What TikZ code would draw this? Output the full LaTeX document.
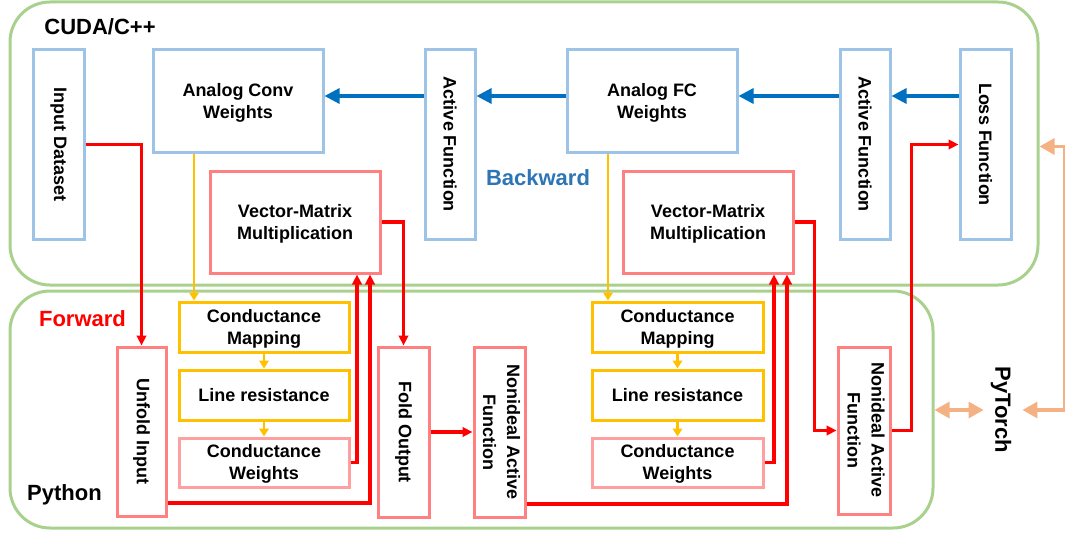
\documentclass[tikz,border=0pt]{standalone}
\usepackage{fontspec}
\setmainfont{Liberation Sans}
\usepackage{graphicx}
\usetikzlibrary{arrows.meta,calc}

\definecolor{cgreen}{HTML}{A9D18E}
\definecolor{cblue}{HTML}{9DC3E6}
\definecolor{cbluearr}{HTML}{0070C0}
\definecolor{cbwtext}{HTML}{2E75B6}
\definecolor{cyellow}{HTML}{FFC000}
\definecolor{cpink}{HTML}{FF8080}
\definecolor{clpink}{HTML}{FFA0A0}
\definecolor{cred}{HTML}{FF0000}
\definecolor{corange}{HTML}{F4B183}

% two-line caption, nudged slightly down inside its box
\newcommand{\twoline}[2]{\raisebox{-2pt}[\height][\depth]{\begin{tabular}{@{}c@{}}#1\\#2\end{tabular}}}

\tikzset{
  box/.style={draw, line width=3pt, fill=white, inner sep=0pt,
    font=\fontsize{18}{22}\selectfont\bfseries, align=center},
  bbox/.style={box, draw=cblue},
  ybox/.style={box, draw=cyellow},
  pbox/.style={box, draw=cpink},
  lpbox/.style={box, draw=clpink},
  cont/.style={draw=cgreen, line width=3pt, rounded corners=40pt, inner sep=0pt},
  lbl/.style={font=\fontsize{22}{26}\selectfont\bfseries, inner sep=0pt},
  redarr/.style={draw=cred, line width=3.2pt, -{Triangle[length=10pt,width=9.5pt]}},
  bluearr/.style={draw=cbluearr, line width=3.2pt, -{Triangle[length=15pt,width=15pt]}},
  yelarr/.style={draw=cyellow, line width=2.8pt, -{Triangle[length=8pt,width=9.5pt]}},
  orarr/.style={draw=corange, line width=3.2pt,
    {Triangle[length=15pt,width=16pt]}-{Triangle[length=15pt,width=16pt]}},
}

\begin{document}
\begin{tikzpicture}[x=1pt,y=-1pt]
\useasboundingbox (0,0) rectangle (1065,535);

% containers
\node[cont, minimum width=1028pt, minimum height=283pt] (cuda) at (524,143.5) {};
\node[cont, minimum width=923pt, minimum height=237pt] (py) at (471.5,409.5) {};

% container captions
\node[lbl] (cudat) at (100,26.5) {CUDA/C++};
\node[lbl, text=cred] (fwd) at (82.5,319) {Forward};
\node[lbl] (pyt) at (64.5,495) {Python};
\node[lbl, text=cbwtext] (bwd) at (538,178) {Backward};
\node[lbl, rotate=-90] (pt) at (1001,410) {PyTorch};

% CUDA/C++ blocks
\node[bbox, minimum width=51pt, minimum height=189pt] (input) at (58.5,144.5) {\rotatebox{-90}{Input Dataset}};
\node[bbox, minimum width=170pt, minimum height=102pt] (conv) at (238,101) {\twoline{Analog Conv}{Weights}};
\node[bbox, minimum width=50pt, minimum height=189pt] (act1) at (450,144.5) {\rotatebox{-90}{Active Function}};
\node[bbox, minimum width=170pt, minimum height=102pt] (fc) at (652,101) {\twoline{Analog FC}{Weights}};
\node[bbox, minimum width=50pt, minimum height=189pt] (act2) at (865,144.5) {\rotatebox{-90}{Active Function}};
\node[bbox, minimum width=51pt, minimum height=189pt] (loss) at (985.5,144.5) {\rotatebox{-90}{Loss Function}};
\node[pbox, minimum width=170pt, minimum height=102pt] (vmm1) at (295,222) {\twoline{Vector-Matrix}{Multiplication}};
\node[pbox, minimum width=170pt, minimum height=102pt] (vmm2) at (708,222) {\twoline{Vector-Matrix}{Multiplication}};

% Python blocks
\node[pbox, minimum width=49pt, minimum height=169pt] (unfold) at (141.5,431.5) {\rotatebox{-90}{Unfold Input}};
\node[ybox, minimum width=170pt, minimum height=50pt] (cm1) at (264,327) {\twoline{Conductance}{Mapping}};
\node[ybox, minimum width=170pt, minimum height=50pt] (lr1) at (264,395) {Line resistance};
\node[lpbox, minimum width=170pt, minimum height=49pt] (cw1) at (264,462.5) {\twoline{Conductance}{Weights}};
\node[pbox, minimum width=51pt, minimum height=170pt] (fold) at (403.5,432) {\rotatebox{-90}{Fold Output}};
\node[pbox, minimum width=51pt, minimum height=170pt] (naf1) at (499.5,432)
  {\rotatebox{-90}{\begin{tabular}{@{}c@{}}Nonideal Active\\[2pt]Function\end{tabular}}};
\node[ybox, minimum width=171pt, minimum height=50pt] (cm2) at (677.5,327) {\twoline{Conductance}{Mapping}};
\node[ybox, minimum width=171pt, minimum height=50pt] (lr2) at (677.5,395) {Line resistance};
\node[lpbox, minimum width=171pt, minimum height=49pt] (cw2) at (677.5,462.5) {\twoline{Conductance}{Weights}};
\node[pbox, minimum width=52pt, minimum height=167pt] (naf2) at (864,430.5)
  {\rotatebox{-90}{\begin{tabular}{@{}c@{}}Nonideal Active\\[2pt]Function\end{tabular}}};

% lanes
\coordinate (yb) at (0,96);
\coordinate (ly1) at (194,0);
\coordinate (ly2) at (608,0);

% backward path
\draw[bluearr] (loss.west |- yb) -- (act2.east |- yb);
\draw[bluearr] (act2.west |- yb) -- (fc.east |- yb);
\draw[bluearr] (fc.west |- yb) -- (act1.east |- yb);
\draw[bluearr] (act1.west |- yb) -- (conv.east |- yb);

% weight mapping
\draw[yelarr] (conv.south -| ly1) -- (cm1.north -| ly1);
\draw[yelarr] (cm1.south) -- (lr1.north);
\draw[yelarr] (lr1.south) -- (cw1.north);
\draw[yelarr] (fc.south -| ly2) -- (cm2.north -| ly2);
\draw[yelarr] (cm2.south) -- (lr2.north);
\draw[yelarr] (lr2.south) -- (cw2.north);

% forward path
\draw[redarr] (input.east) -| (unfold.north);
\draw[redarr] (cw1.east) -| ([xshift=62pt]vmm1.south);
\draw[redarr] ([yshift=-71.5pt]unfold.east) -| ([xshift=75pt]vmm1.south);
\draw[redarr] (vmm1.east) -| (fold.north);
\draw[redarr] (fold.east) -- (naf1.west);
\draw[redarr] (cw2.east) -| ([xshift=66pt]vmm2.south);
\draw[redarr] ([yshift=-72pt]naf1.east) -| ([xshift=79pt]vmm2.south);
\draw[redarr] (vmm2.east) -| ([xshift=-22pt]naf2.west) -- (naf2.west);
\draw[redarr] (naf2.east) -- ++(20,0) |- (loss.west);

% PyTorch links
\draw[orarr] (py.east |- pt) -- ([xshift=-7pt]pt.south);
\draw[orarr] ([yshift=-3pt]cuda.east) -- ++(25,0) |- ([xshift=11pt]pt.north);
\end{tikzpicture}
\end{document}
